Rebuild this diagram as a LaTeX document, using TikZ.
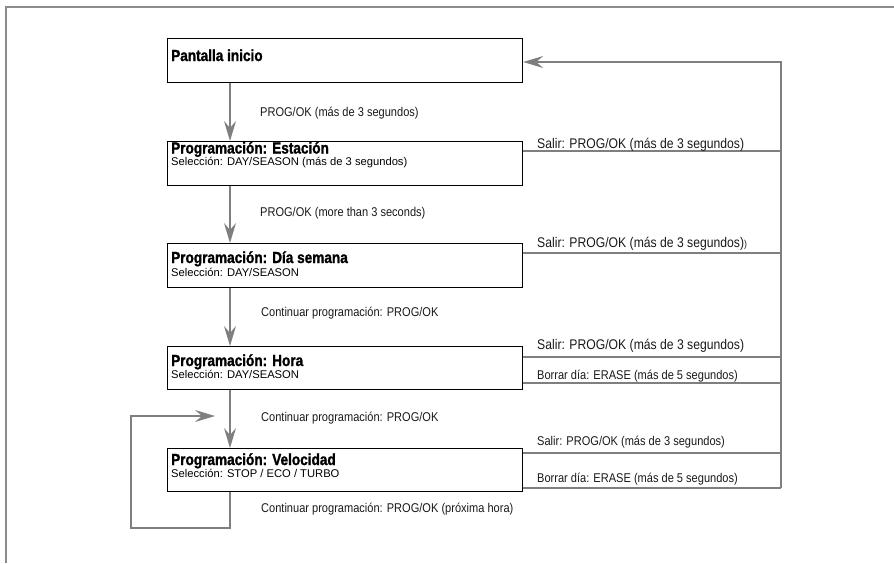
\documentclass[tikz,border=0pt]{standalone}
\usepackage{fontspec}
\setmainfont{Liberation Sans}
\newfontfamily\narrowfont[FakeStretch=0.87]{Liberation Sans}
\newfontfamily\headfont[FakeStretch=0.85, FakeBold=1.4]{Liberation Sans Bold}
\usetikzlibrary{arrows.meta}
\definecolor{linegray}{HTML}{7F7F7F}
\definecolor{framegray}{HTML}{8C8C8C}
\tikzset{
  box/.style={draw=black, line width=1.2pt, minimum width=355pt, minimum height=44pt,
    anchor=north west, inner sep=0pt},
  wire/.style={draw=linegray, line width=1.4pt},
  flow/.style={wire, -{Stealth[length=20pt,width=12pt,inset=7pt]}},
  frameline/.style={draw=framegray, line width=1.8pt},
  boxtitle/.style={anchor=base west, inner sep=0pt,
    font=\headfont\fontsize{16}{18}\selectfont},
  boxsub/.style={anchor=base west, inner sep=0pt,
    font=\fontsize{11.2}{13}\selectfont},
  lab/.style={anchor=base west, inner sep=0pt, text=black!90,
    font=\narrowfont\fontsize{12.7}{14}\selectfont},
  biglab/.style={lab, font=\narrowfont\fontsize{14}{16}\selectfont},
}
\begin{document}
\begin{tikzpicture}[x=1pt,y=-1pt]
\useasboundingbox (0,0) rectangle (894,563);

% outer frame (top and left edges only)
\draw[frameline] (894,7) -- (6,7) -- (6,563);

% state boxes
\node[box] (b1) at (167,38) {};
\node[box] (b2) at (167,141) {};
\node[box] (b3) at (167,243) {};
\node[box, minimum height=43pt] (b4) at (167,346) {};
\node[box, minimum height=43pt] (b5) at (167,448) {};

% box texts
\node[boxtitle] (t1) at ([shift={(4,23)}]b1.north west) {Pantalla inicio};
\node[boxtitle] (t2) at ([shift={(4,12.5)}]b2.north west) {Programación: Estación};
\node[boxsub]   (s2) at ([shift={(4,24.5)}]b2.north west) {Selección: DAY/SEASON (más de 3 segundos)};
\node[boxtitle] (t3) at ([shift={(4,20)}]b3.north west) {Programación: Día semana};
\node[boxsub]   (s3) at ([shift={(4,33)}]b3.north west) {Selección: DAY/SEASON};
\node[boxtitle] (t4) at ([shift={(4,20)}]b4.north west) {Programación: Hora};
\node[boxsub]   (s4) at ([shift={(4,32.5)}]b4.north west) {Selección: DAY/SEASON};
\node[boxtitle] (t5) at ([shift={(4,17)}]b5.north west) {Programación: Velocidad};
\node[boxsub]   (s5) at ([shift={(4,29.5)}]b5.north west) {Selección: STOP / ECO / TURBO};

% main downward flow
\coordinate (ax) at (230,0);
\draw[flow] (b1.south -| ax) -- (b2.north -| ax);
\draw[flow] (b2.south -| ax) -- (b3.north -| ax);
\draw[flow] (b3.south -| ax) -- (b4.north -| ax);
\draw[flow] (b4.south -| ax) -- (b5.north -| ax);

\node[lab] (l1) at (260,116) {PROG/OK (más de 3 segundos)};
\node[lab] (l2) at (260,216) {PROG/OK (more than 3 seconds)};
\node[lab] (l3) at (261,316) {Continuar programación: PROG/OK};
\node[lab] (l4) at (261,421) {Continuar programación: PROG/OK};
\node[lab] (l5) at (261,512) {Continuar programación: PROG/OK (próxima hora)};

% loop back into the speed step
\coordinate (loopL) at (131,528);
\coordinate (loopT) at (215,416);
\draw[flow] (b5.south -| ax) |- (loopL) |- (loopT);

% exit lines to the return bus
\coordinate (rx) at (781,0);
\coordinate (in1) at ([yshift=-24pt]b1.north east);
\coordinate (e2) at ([yshift=-10pt]b2.north east);
\coordinate (e3) at ([yshift=-10pt]b3.north east);
\coordinate (e4) at ([yshift=-11pt]b4.north east);
\coordinate (d4) at ([yshift=-37pt]b4.north east);
\coordinate (e5) at ([yshift=-5pt]b5.north east);
\coordinate (d5) at ([yshift=-40pt]b5.north east);

\draw[flow] (d5 -| rx) -- (rx |- in1) -- (in1);
\draw[wire] (e2) -- (e2 -| rx);
\draw[wire] (e3) -- (e3 -| rx);
\draw[wire] (e4) -- (e4 -| rx);
\draw[wire] (d4) -- (d4 -| rx);
\draw[wire] (e5) -- (e5 -| rx);
\draw[wire] (d5) -- (d5 -| rx);

\node[biglab] (r2) at (537,148) {Salir: PROG/OK (más de 3 segundos)};
\node[biglab] (r3) at (537,247) {Salir: PROG/OK (más de 3 segundos){\fontsize{10}{12}\selectfont)}};
\node[biglab] (r4) at (537,349) {Salir: PROG/OK (más de 3 segundos)};
\node[lab]    (q4) at (537,379) {Borrar día: ERASE (más de 5 segundos)};
\node[lab]    (r5) at (537,445) {Salir: PROG/OK (más de 3 segundos)};
\node[lab]    (q5) at (537,482) {Borrar día: ERASE (más de 5 segundos)};
\end{tikzpicture}
\end{document}
